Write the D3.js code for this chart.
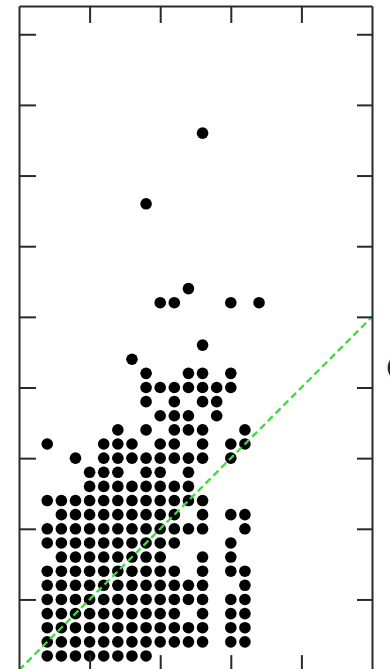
<!DOCTYPE html>
<html>
<head>
<meta charset="utf-8">
<script src="https://cdn.jsdelivr.net/npm/d3@7"></script>
<style>
  html, body { margin: 0; padding: 0; background: #fff; }
  svg { display: block; }
</style>
</head>
<body>
<div class="vis-scatter"></div>
<script>
// y level of each row of dots (bottom to top)
const yLevels = [0.2, 0.4, 0.6, 0.8, 1.0, 1.2, 1.4, 1.6, 1.8, 2.0, 2.2, 2.4, 2.6, 2.8,
  3.0, 3.2, 3.4, 3.6, 3.8, 4.0, 4.2, 4.4, 4.6, 5.2, 5.4, 6.6, 7.6];

// x values of the dots found at each y level
const xAtLevel = [
  [0.4, 0.6, 0.8, 1.0, 1.2, 1.4, 1.6, 1.8],
  [0.4, 0.6, 0.8, 1.0, 1.2, 1.4, 1.6, 1.8, 2.0, 2.2, 2.4, 2.6, 3.0, 3.2],
  [0.4, 0.6, 0.8, 1.0, 1.2, 1.4, 1.6, 1.8, 2.0, 2.2, 2.4, 2.6, 3.0, 3.2],
  [0.4, 0.6, 0.8, 1.0, 1.2, 1.4, 1.6, 1.8, 2.0, 2.2, 2.6, 3.0, 3.2],
  [0.4, 0.6, 0.8, 1.0, 1.2, 1.4, 1.6, 1.8, 2.0, 2.2, 2.4, 2.6, 3.0, 3.2],
  [0.4, 0.6, 0.8, 1.0, 1.2, 1.4, 1.6, 1.8, 2.0, 2.2, 2.4, 2.6, 3.2],
  [0.4, 0.6, 0.8, 1.0, 1.2, 1.4, 1.6, 1.8, 2.0, 2.2, 2.6, 3.0, 3.2],
  [0.6, 0.8, 1.0, 1.2, 1.4, 1.6, 1.8, 2.0, 2.6, 3.0],
  [0.4, 0.6, 0.8, 1.0, 1.2, 1.4, 1.6, 1.8, 2.0, 2.2, 3.0],
  [0.4, 0.6, 0.8, 1.0, 1.2, 1.4, 1.6, 1.8, 2.0, 2.2, 2.4, 2.6, 3.2],
  [0.6, 0.8, 1.0, 1.2, 1.4, 1.6, 1.8, 2.0, 2.2, 2.6, 3.0, 3.2],
  [0.4, 0.6, 0.8, 1.0, 1.2, 1.4, 1.6, 1.8, 2.0, 2.2, 2.4, 2.6],
  [1.0, 1.2, 1.4, 1.6, 1.8, 2.0, 2.2, 2.4],
  [1.0, 1.2, 1.4, 1.8, 2.0, 2.4],
  [0.8, 1.2, 1.4, 1.6, 1.8, 2.0, 2.2, 2.4, 2.6, 3.0],
  [0.4, 1.2, 1.4, 1.6, 2.0, 2.2, 2.6, 3.0, 3.2],
  [1.4, 1.8, 2.2, 2.4, 2.6, 3.2],
  [2.0, 2.2, 2.4, 2.8],
  [1.8, 2.2, 2.6, 2.8],
  [1.8, 2.0, 2.2, 2.4, 2.6, 2.8, 3.0],
  [1.8, 2.4, 2.6, 3.0],
  [1.6],
  [2.6],
  [2.0, 2.2, 3.0, 3.4],
  [2.4],
  [1.8],
  [2.6]
];

// ticks and the 1:1 reference line
const xTicks = [1, 2, 3, 4];
const yTicks = [1, 2, 3, 4, 5, 6, 7, 8, 9];
const refLine = [[0, 0], [5, 5]];

const points = [];
yLevels.forEach((yv, i) => {
  xAtLevel[i].forEach(xv => points.push({x: xv, y: yv}));
});

const width = 390;
const height = 669;
const pad = {left: 19, right: 372, top: 6, bottom: 670.1};

const svg = d3.select('.vis-scatter').append('svg')
  .attr('width', width).attr('height', height);

const x = d3.scaleLinear().domain([0, 5]).range([pad.left, pad.right]);
const y = d3.scaleLinear().domain([0, 9.4]).range([pad.bottom, pad.top]);

// dots
svg.append('g')
  .selectAll('circle')
  .data(points)
  .enter()
  .append('circle')
  .attr('cx', d => x(d.x))
  .attr('cy', d => y(d.y))
  .attr('r', 5.8)
  .attr('fill', '#000');

// dashed green 1:1 line
svg.append('path')
  .datum(refLine)
  .attr('d', d3.line().x(d => x(d[0])).y(d => y(d[1])))
  .attr('fill', 'none')
  .attr('stroke', '#2aea2a')
  .attr('stroke-width', 2.3)
  .attr('stroke-dasharray', '7,4');

// frame with inward ticks on all four sides
const axes = [
  d3.axisBottom(x).tickValues(xTicks).tickSize(17),
  d3.axisTop(x).tickValues(xTicks).tickSize(15),
  d3.axisRight(y).tickValues(yTicks).tickSize(17),
  d3.axisLeft(y).tickValues(yTicks).tickSize(15)
];
const shifts = [
  [0, pad.top], [0, pad.bottom], [pad.left, 0], [pad.right, 0]
];
axes.forEach((ax, i) => {
  const g = svg.append('g')
    .attr('transform', 'translate(' + shifts[i][0] + ',' + shifts[i][1] + ')')
    .call(ax.tickSizeOuter(0).tickFormat(''));
  g.select('.domain').attr('stroke', '#2a2a2a').attr('stroke-width', 2);
  g.selectAll('.tick line').attr('stroke', '#2a2a2a').attr('stroke-width', 2);
});

// cut-off label at the right edge
svg.append('text')
  .attr('x', 386)
  .attr('y', 374)
  .attr('font-family', 'DejaVu Sans, sans-serif')
  .attr('font-size', 19)
  .attr('font-weight', 'bold')
  .attr('fill', '#222')
  .text('(');
</script>
</body>
</html>
